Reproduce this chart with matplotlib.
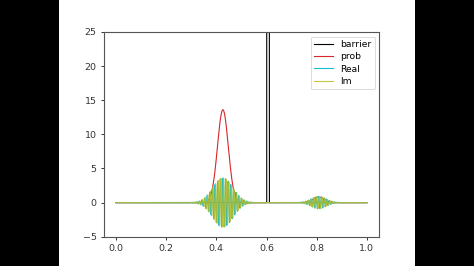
import numpy as np
import matplotlib.pyplot as plt
from matplotlib.patches import Rectangle

# wave packets
packet_centers = [0.426, 0.808]
prob_peaks = [13.6, 0.82]      # peak of |psi|^2
prob_widths = [0.0215, 0.022]  # sigma of the prob bump
wave_amps = [3.6, 0.9]         # envelope of Real / Im
wave_widths = [0.04, 0.03]
wavelength = 0.0105            # spacing of the fringes
barrier_edges = [0.601, 0.611]
barrier_height = 1000.0
labels = ["barrier", "prob", "Real", "Im"]

x = np.linspace(0, 1, 4001)
prob = np.zeros_like(x)
psi = np.zeros_like(x, dtype=complex)
for c, p, sp_, a, sw in zip(packet_centers, prob_peaks, prob_widths, wave_amps, wave_widths):
    prob += p * np.exp(-(x - c) ** 2 / (2 * sp_ ** 2))
    psi += a * np.exp(-(x - c) ** 2 / (2 * sw ** 2)) * np.exp(1j * 2 * np.pi * (x - c) / wavelength)
V = np.where((x >= barrier_edges[0]) & (x <= barrier_edges[1]), barrier_height, 0.0)

W, H = 474, 266
fig = plt.figure(figsize=(W / 100, H / 100), dpi=100, facecolor="black")
fig.patches.append(Rectangle((59 / W, 0), 356 / W, 1, transform=fig.transFigure,
                             facecolor="white", zorder=-1))
ax = fig.add_axes([(59 + 0.125 * 356) / W, 0.11, 0.775 * 356 / W, 0.77])
ax.set_zorder(2)

lw = 0.8
ax.plot(x, V, color="black", lw=lw, label=labels[0])
ax.plot(x, prob, color="tab:red", lw=lw, label=labels[1])
ax.plot(x, psi.real, color="tab:cyan", lw=lw, label=labels[2])
ax.plot(x, psi.imag, color="tab:olive", lw=lw, alpha=0.85, label=labels[3])
ax.set_ylim(-5, 25)
ax.set_xlim(-0.05, 1.05)
ax.set_xticks([0.0, 0.2, 0.4, 0.6, 0.8, 1.0])

ax.tick_params(labelsize=6.8, length=2.5, width=0.7, pad=2.5, colors="#333333")
for sp in ax.spines.values():
    sp.set_linewidth(0.8)
    sp.set_color("#555555")
leg = ax.legend(loc="upper right", fontsize=6.6, handlelength=2, borderpad=0.4,
                labelspacing=0.35, framealpha=0.8)
leg.get_frame().set_linewidth(0.6)

fig.savefig("out.png", dpi=100, facecolor="black")
